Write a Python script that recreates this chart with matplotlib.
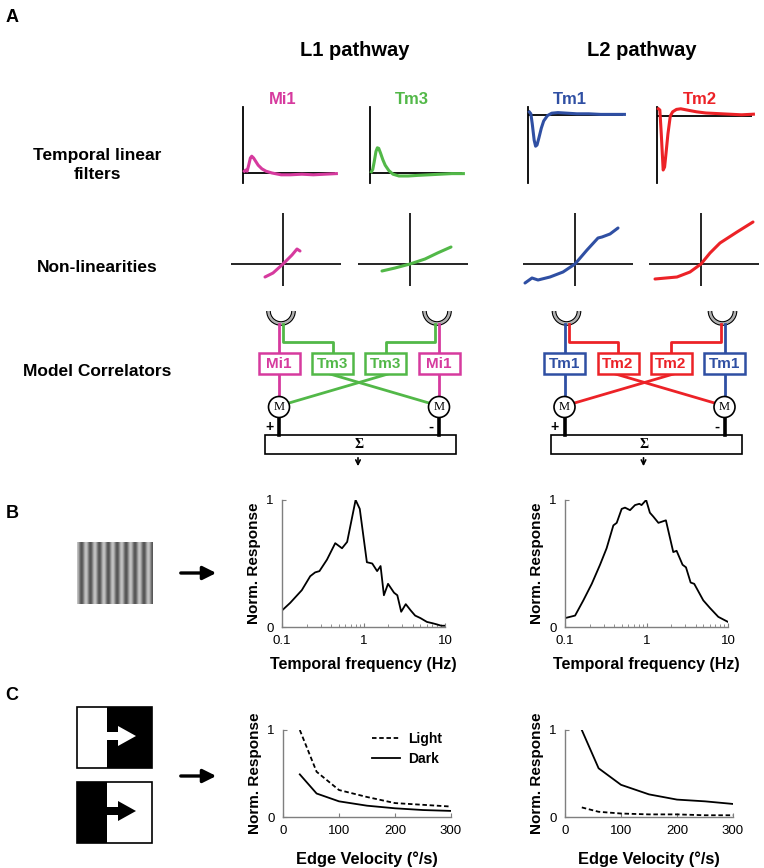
import numpy as np
import matplotlib
matplotlib.use("Agg")
import matplotlib.pyplot as plt
from matplotlib.patches import Rectangle, Circle, Arc, Polygon

plt.rcParams['font.family'] = ['Liberation Sans', 'DejaVu Sans']

W, H = 764, 868

# colours
MI1 = "#d63a9e"
TM3 = "#52b848"
TM1 = "#2f4fa3"
TM2 = "#ec2227"

# --- temporal linear filters (time in s, response in a.u.) ---
filt_t = [0, 0.03, 0.06, 0.1, 0.13, 0.16, 0.2, 0.25, 0.3, 0.38, 0.47, 0.6, 0.8, 1.0, 1.25, 1.5, 1.75, 2.0]
mi1_filter = [0.03, 0.05, 0.03, 0.15, 0.25, 0.28, 0.25, 0.19, 0.13, 0.07, 0.03, 0.0, -0.03, -0.03, -0.02, -0.03, -0.02, -0.01]
tm3_filter = [0.02, 0.06, 0.18, 0.36, 0.42, 0.41, 0.33, 0.22, 0.13, 0.04, -0.02, -0.05, -0.05, -0.04, -0.03, -0.02, -0.01, -0.01]
tm1_filter = [0.05, 0.02, -0.15, -0.42, -0.52, -0.50, -0.38, -0.22, -0.10, -0.01, 0.03, 0.04, 0.03, 0.02, 0.02, 0.01, 0.01, 0.01]
tm2_filter = [0.12, 0.10, -0.30, -0.90, -0.85, -0.62, -0.30, 0.0, 0.07, 0.11, 0.12, 0.10, 0.07, 0.05, 0.04, 0.03, 0.02, 0.03]

# --- static non-linearities (input, output) ---
mi1_nl_x = [-0.36, -0.2, 0.0, 0.18, 0.28, 0.34]
mi1_nl_y = [-0.26, -0.18, 0.0, 0.18, 0.30, 0.26]
tm3_nl_x = [-0.56, -0.3, 0.0, 0.3, 0.55, 0.82]
tm3_nl_y = [-0.14, -0.08, 0.0, 0.10, 0.22, 0.34]
tm1_nl_x = [-1.0, -0.86, -0.74, -0.5, -0.24, 0.0, 0.24, 0.46, 0.54, 0.7, 0.86]
tm1_nl_y = [-0.38, -0.28, -0.32, -0.26, -0.16, 0.0, 0.28, 0.52, 0.54, 0.6, 0.72]
tm2_nl_x = [-0.92, -0.48, -0.22, 0.0, 0.18, 0.38, 0.72, 1.04]
tm2_nl_y = [-0.30, -0.26, -0.16, 0.0, 0.22, 0.42, 0.64, 0.84]

# --- B: temporal frequency tuning ---
l1_freq = [0.1, 0.126, 0.175, 0.222, 0.255, 0.288, 0.356, 0.45, 0.545, 0.63, 0.8, 0.9, 1.1, 1.28, 1.47,
           1.62, 1.78, 2.0, 2.37, 2.6, 2.9, 3.3, 3.8, 4.3, 5.0, 6.0, 7.0, 8.0, 9.0, 10.0]
l1_resp = [0.13, 0.19, 0.29, 0.40, 0.43, 0.44, 0.53, 0.66, 0.62, 0.67, 1.0, 0.93, 0.51, 0.50, 0.44,
           0.48, 0.25, 0.34, 0.27, 0.25, 0.12, 0.18, 0.13, 0.09, 0.07, 0.04, 0.03, 0.02, 0.01, 0.01]
l2_freq = [0.1, 0.133, 0.168, 0.213, 0.269, 0.324, 0.392, 0.431, 0.496, 0.545, 0.628, 0.723, 0.817, 0.87,
           0.99, 1.10, 1.21, 1.40, 1.73, 2.13, 2.34, 2.77, 3.05, 3.48, 3.85, 4.97, 6.0, 7.6, 10.0]
l2_resp = [0.07, 0.09, 0.21, 0.34, 0.49, 0.62, 0.80, 0.82, 0.93, 0.94, 0.92, 0.96, 0.97, 0.96,
           1.0, 0.90, 0.87, 0.82, 0.84, 0.59, 0.60, 0.49, 0.47, 0.35, 0.34, 0.21, 0.15, 0.08, 0.04]

# --- C: edge velocity tuning ---
velocity = [30, 60, 100, 150, 200, 250, 300]
l1_light = [1.0, 0.52, 0.31, 0.23, 0.16, 0.14, 0.12]
l1_dark = [0.49, 0.27, 0.18, 0.13, 0.10, 0.08, 0.07]
l2_light = [0.11, 0.06, 0.04, 0.03, 0.03, 0.02, 0.02]
l2_dark = [1.0, 0.56, 0.37, 0.26, 0.20, 0.18, 0.15]


fig = plt.figure(figsize=(W / 100, H / 100), dpi=100)


def px_axes(x0, y0, x1, y1):
    return fig.add_axes([x0 / W, 1 - y1 / H, (x1 - x0) / W, (y1 - y0) / H])


ov = fig.add_axes([0, 0, 1, 1])
ov.set_xlim(0, W)
ov.set_ylim(H, 0)
ov.axis("off")

# panel letters, titles, row labels
for letter, y in [("A", 17), ("B", 513), ("C", 695)]:
    ov.text(12, y, letter, fontsize=13, fontweight="bold", ha="center", va="center")
ov.text(355, 50, "L1 pathway", fontsize=14.5, fontweight="bold", ha="center", va="center")
ov.text(642, 50, "L2 pathway", fontsize=14.5, fontweight="bold", ha="center", va="center")
for name, col, x in [("Mi1", MI1, 283), ("Tm3", TM3, 412), ("Tm1", TM1, 570), ("Tm2", TM2, 700)]:
    ov.text(x, 100, name, fontsize=12, fontweight="bold", color=col, ha="center", va="center")
ov.text(97, 165, "Temporal linear\nfilters", fontsize=12.5, fontweight="bold", ha="center",
        va="center", linespacing=1.4)
ov.text(97, 268, "Non-linearities", fontsize=12.5, fontweight="bold", ha="center", va="center")
ov.text(97, 371, "Model Correlators", fontsize=12.5, fontweight="bold", ha="center", va="center")

# filters
filt_panels = [
    (243, 335, 173, mi1_filter, MI1),
    (370, 462, 173, tm3_filter, TM3),
    (528, 623, 115, tm1_filter, TM1),
    (657, 752, 116, tm2_filter, TM2),
]
for x0, x1, base, vals, col in filt_panels:
    ax = px_axes(x0, 107, x1, 183)
    ax.set_xlim(0, 2)
    ax.set_ylim(-(183 - base) / 60, (base - 107) / 60)
    ax.axvline(0, color="black", lw=1.3, clip_on=False)
    ax.axhline(0, color="black", lw=1.3)
    ax.plot([t + 0.03 for t in filt_t], vals, color=col, lw=2.2, clip_on=False)
    ax.axis("off")

# non-linearities
nl_panels = [
    (283, mi1_nl_x, mi1_nl_y, MI1),
    (410, tm3_nl_x, tm3_nl_y, TM3),
    (575, tm1_nl_x, tm1_nl_y, TM1),
    (701, tm2_nl_x, tm2_nl_y, TM2),
]
for cx, xs, ys, col in nl_panels:
    ax = px_axes(cx - 52, 213, cx + 58, 286)
    ax.set_xlim(-52 / 50, 58 / 50)
    ax.set_ylim(-22 / 50, 51 / 50)
    ax.axvline(0, color="black", lw=1.2)
    ax.axhline(0, color="black", lw=1.2)
    ax.plot(xs, ys, color=col, lw=2.2, solid_capstyle="round")
    ax.axis("off")


def cup(cx, cy=311):
    for r in (14, 11):
        ov.add_patch(Arc((cx, cy), 2 * r, 2 * r, theta1=0, theta2=180, color="black", lw=1.2))
    ov.add_patch(Arc((cx, cy), 25, 25, theta1=0, theta2=180, color="#b0b0b0", lw=1.8))


def correlator(mid, col_a, col_b, name_a, name_b):
    lw = 2.0
    for s in (-1, 1):
        xa = mid + s * 80
        xb_line = mid + s * 76
        xb_box = mid + s * 26.5
        cup(mid + s * 78)
        ov.plot([xa, xa], [324, 353], color=col_a, lw=lw)
        ov.plot([xa, xa], [374, 396.5], color=col_a, lw=lw)
        ov.plot([xb_line, xb_line, xb_box, xb_box], [324, 342, 342, 353], color=col_b, lw=lw)
        for xc, col, name in ((xa, col_a, name_a), (xb_box, col_b, name_b)):
            ov.add_patch(Rectangle((xc - 20.5, 353), 41, 21, facecolor="white", edgecolor=col, lw=1.8, zorder=3))
            ov.text(xc, 364, name, color=col, fontsize=11, fontweight="bold", ha="center", va="center", zorder=4)
        # crossing line from the b cell to the opposite multiplier
        ov.plot([mid + s * 29, mid - s * 70], [374, 403], color=col_b, lw=lw)
        ov.add_patch(Circle((xa, 407), 10.5, facecolor="white", edgecolor="black", lw=1.2, zorder=3))
        ov.text(xa, 407.5, "M", family="Liberation Serif", fontsize=9, ha="center", va="center", zorder=4)
        ov.plot([xa, xa], [417.5, 435], color="black", lw=2.6)
    ov.text(mid - 90, 427, "+", fontsize=10, fontweight="bold", ha="center", va="center")
    ov.text(mid + 72, 427, "-", fontsize=11, fontweight="bold", ha="center", va="center")
    ov.add_patch(Rectangle((mid - 94, 435), 191, 19, facecolor="white", edgecolor="black", lw=1.2))
    ov.text(mid, 444.5, "Σ", family="Liberation Serif", fontsize=10, fontweight="bold", ha="center", va="center")
    ov.annotate("", xy=(mid - 1, 469), xytext=(mid - 1, 455),
                arrowprops=dict(arrowstyle="->", lw=1.2, color="black", mutation_scale=8))


correlator(359, MI1, TM3, "Mi1", "Tm3")
correlator(644.5, TM1, TM2, "Tm1", "Tm2")

# stimulus icons
xs = np.linspace(0, 8.5 * 2 * np.pi, 300)
grating = 0.55 + 0.22 * np.cos(xs)
ov.imshow(np.tile(grating, (10, 1)), cmap="gray", vmin=0, vmax=1, extent=(77, 153, 604, 542),
          aspect="auto", interpolation="bilinear")


def edge_icon(y0, light_left):
    left_col, right_col = ("white", "black") if light_left else ("black", "white")
    arrow_col = "white" if light_left else "black"
    ov.add_patch(Rectangle((77, y0), 29.5, 61, facecolor=left_col, edgecolor="none"))
    ov.add_patch(Rectangle((106.5, y0), 45.5, 61, facecolor=right_col, edgecolor="none"))
    ov.add_patch(Rectangle((77, y0), 75, 61, facecolor="none", edgecolor="black", lw=1.2))
    cy = y0 + 29
    ov.add_patch(Polygon([(106.5, cy - 4), (118, cy - 4), (118, cy - 10), (136, cy), (118, cy + 10),
                          (118, cy + 4), (106.5, cy + 4)], closed=True, facecolor=arrow_col, edgecolor="none"))


edge_icon(707, True)
edge_icon(782, False)

for y in (573, 776):
    ov.annotate("", xy=(219, y), xytext=(178, y),
                arrowprops=dict(arrowstyle="-|>", lw=2.4, color="black", mutation_scale=20))

ov.set_xlim(0, W)
ov.set_ylim(H, 0)

SPINE = "#7f7f7f"


def style(ax):
    for side in ("top", "right"):
        ax.spines[side].set_visible(False)
    for side in ("left", "bottom"):
        ax.spines[side].set_color(SPINE)
        ax.spines[side].set_linewidth(1.0)
    ax.tick_params(which="both", direction="in", color=SPINE, labelsize=9.5, length=3)
    ax.tick_params(which="minor", length=2)
    ax.tick_params(axis="x", pad=6)
    ax.tick_params(axis="y", pad=6)
    ax.set_ylim(0, 1)
    ax.set_yticks([0, 1])
    ax.set_yticklabels(["0", "1"])
    ax.set_ylabel("Norm. Response", fontsize=11, fontweight="bold", labelpad=4)
    ax.patch.set_alpha(0)


for (x0, x1), f, r in [((282, 445), l1_freq, l1_resp), ((565, 728), l2_freq, l2_resp)]:
    ax = px_axes(x0, 500, x1, 627)
    ax.plot(f, r, color="black", lw=1.3)
    ax.set_xscale("log")
    ax.set_xlim(0.1, 10)
    ax.set_xticks([0.1, 1, 10])
    ax.set_xticklabels(["0.1", "1", "10"])
    style(ax)
    ax.set_xlabel("Temporal frequency (Hz)", fontsize=11.5, fontweight="bold", labelpad=7)

for (x0, x1), light, dark, leg in [((283, 451), l1_light, l1_dark, True), ((565, 733), l2_light, l2_dark, False)]:
    ax = px_axes(x0, 730, x1, 817)
    ax.plot(velocity, light, color="black", lw=1.3, ls=(0, (2.5, 1.5)), label="Light")
    ax.plot(velocity, dark, color="black", lw=1.3, label="Dark")
    ax.set_xlim(0, 300)
    ax.set_xticks([0, 100, 200, 300])
    style(ax)
    ax.set_xlabel("Edge Velocity (°/s)", fontsize=11.8, fontweight="bold", labelpad=10)
    if leg:
        ax.legend(loc="upper right", bbox_to_anchor=(1.02, 1.12), frameon=False, handlelength=2.0,
                  prop={"weight": "bold", "size": 10}, labelspacing=0.4, handletextpad=0.6)

fig.savefig("out.png", dpi=100)
